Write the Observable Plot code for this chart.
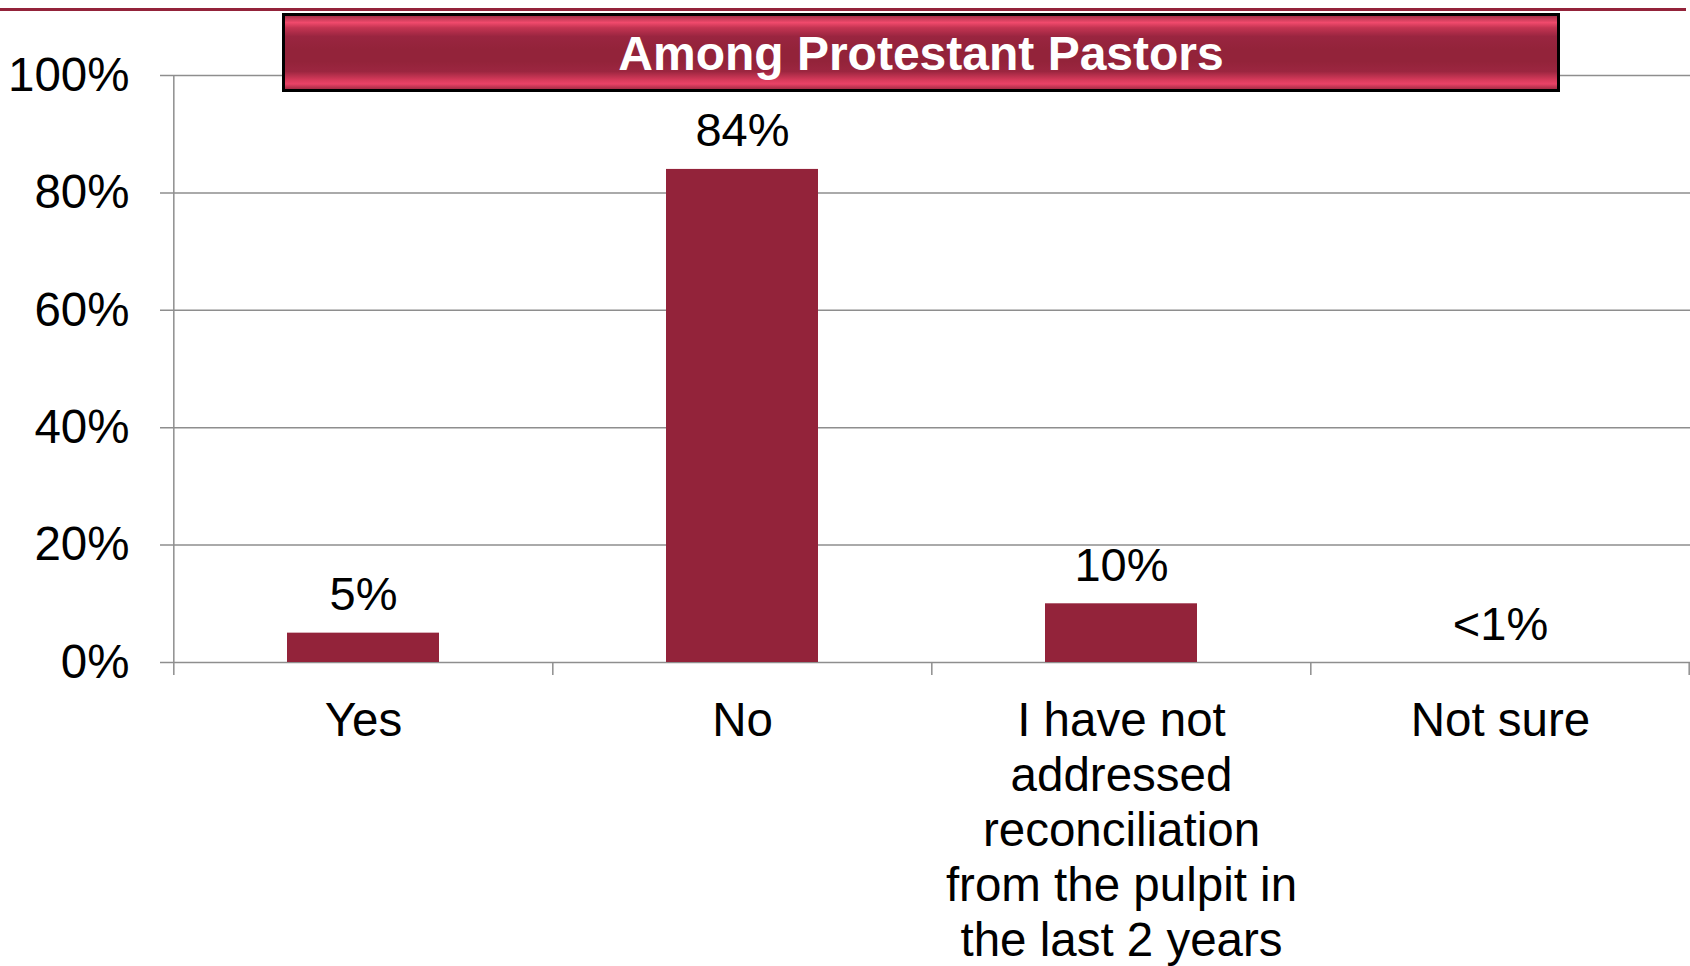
<!DOCTYPE html>
<html>
<head>
<meta charset="utf-8">
<script src="https://cdn.jsdelivr.net/npm/d3@7"></script>
<script src="https://cdn.jsdelivr.net/npm/@observablehq/plot@0.6"></script>
<style>
  html, body { margin: 0; padding: 0; background: #fff; overflow: hidden; }
  #wrap { position: relative; width: 1690px; height: 966px; overflow: hidden; font-family: "Liberation Sans", Arial, sans-serif; }
  #chart svg { display: block; }
  #topline { position: absolute; left: 0; top: 8px; width: 1686px; height: 3px; background: #93233a; }
  #title {
    position: absolute; left: 282px; top: 13px; width: 1272px; height: 73px;
    border: 3px solid #000;
    background: linear-gradient(to bottom, #a8314a 0%, #f04a6c 9%, #c43452 16%, #9a2540 28%, #93233a 45%, #93233a 62%, #9c2640 76%, #d93b5c 88%, #ea4266 93%, #a52c45 100%);
    color: #fff; font-weight: bold; font-size: 48px; line-height: 75px; text-align: center;
    box-sizing: content-box;
  }
</style>
</head>
<body>
<div id="wrap">
  <div id="chart"></div>
  <div id="topline"></div>
  <div id="title">Among Protestant Pastors</div>
</div>
<script>
const categories = ["Yes", "No", "I have not addressed reconciliation from the pulpit in the last 2 years", "Not sure"];
const values = [5, 84, 10, 0];
const valueLabels = ["5%", "84%", "10%", "<1%"];
const axisLabels = ["Yes", "No", "I have not\naddressed\nreconciliation\nfrom the pulpit in\nthe last 2 years", "Not sure"];
const yTicks = [0, 20, 40, 60, 80, 100];

const data = categories.map((c, i) => ({cat: c, value: values[i], label: valueLabels[i]}));

const W = 1690, H = 966, mL = 172.5, mR = 0, mT = 75, mB = 304;
const plotH = H - mT - mB;
const step = (W - mL - mR) / categories.length;
const grey = "#8e8e8e";

const chart = Plot.plot({
  width: W, height: H,
  marginLeft: mL, marginRight: mR, marginTop: mT, marginBottom: mB,
  style: {fontFamily: "'Liberation Sans', Arial, sans-serif", color: "#000", background: "transparent", overflow: "visible"},
  x: {domain: categories, paddingInner: 0.6, paddingOuter: 0.3, axis: null},
  y: {domain: [0, 100], axis: null},
  marks: [
    Plot.ruleY(yTicks, {y: d => d, insetLeft: -12.5, stroke: grey, strokeWidth: 1.5}),
    Plot.axisY(yTicks, {tickSize: 0, tickPadding: 43.5, tickFormat: d => d + "%", fontSize: 47.5, fill: "#000", label: null}),
    Plot.ruleX([categories[0]], {x: d => d, dx: -step / 2, insetBottom: -13, stroke: grey, strokeWidth: 1.5}),
    Plot.ruleX(categories.slice(1), {x: d => d, dx: -step / 2, insetTop: plotH, insetBottom: -13, stroke: grey, strokeWidth: 1.5}),
    Plot.ruleX([categories[categories.length - 1]], {x: d => d, dx: step / 2 - 1, insetTop: plotH, insetBottom: -13, stroke: grey, strokeWidth: 1.5}),
    Plot.barY(data, {x: "cat", y: "value", fill: "#93233a"}),
    Plot.text(data, {x: "cat", y: "value", text: "label", dy: -38, fontSize: 47, fill: "#000"}),
    Plot.axisX({tickSize: 0, tickPadding: 34, fontSize: 47.5, lineHeight: 1.16, fill: "#000", label: null,
      tickFormat: d => axisLabels[categories.indexOf(d)]})
  ]
});
document.getElementById("chart").appendChild(chart);
</script>
</body>
</html>
